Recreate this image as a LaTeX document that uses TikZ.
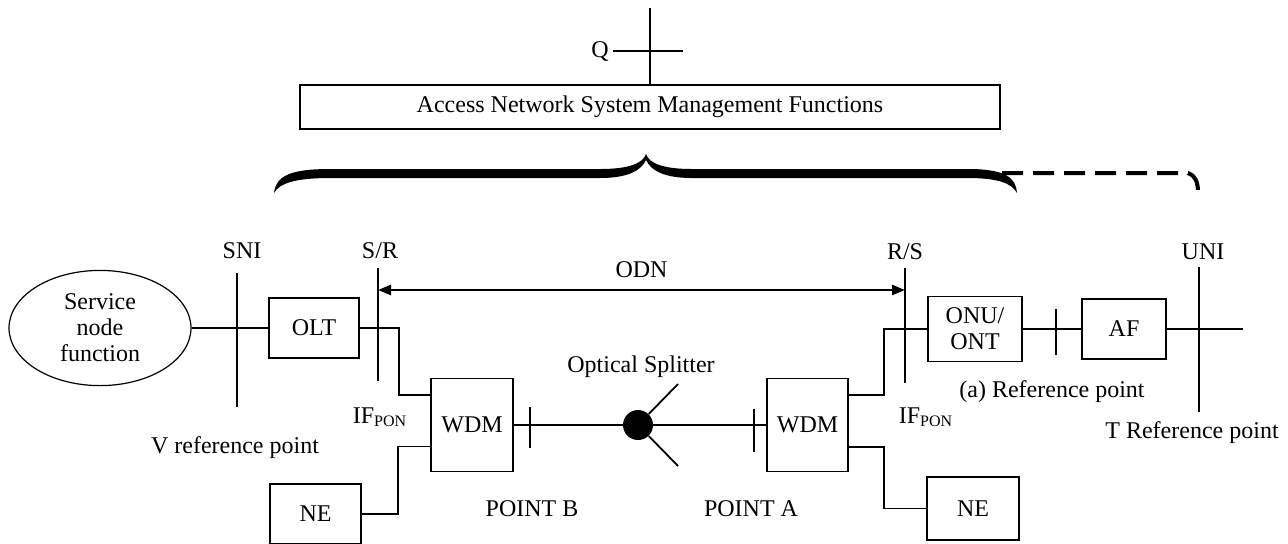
\documentclass[tikz,border=0pt]{standalone}
\usepackage{fontspec}
\setmainfont{Liberation Serif}
\usetikzlibrary{shapes.geometric, arrows.meta}

\begin{document}
\begin{tikzpicture}[x=0.5pt, y=-0.5pt,
    every node/.style={font=\fontsize{12}{13}\selectfont},
    box/.style={draw, line width=0.6pt, inner sep=0pt, align=center},
    lbl/.style={anchor=base, inner sep=0pt},
    refline/.style={line width=1.3pt},
    link/.style={line width=0.6pt},
    tick/.style={line width=0.9pt}]
    \useasboundingbox (0,0) rectangle (1288,543);

    % management part
    \node[box, minimum width=350pt, minimum height=22pt] (mgmt) at (650,107) {Access Network System Management Functions};
    \coordinate (qtop) at (650,8);
    \draw[refline] (qtop) -- (mgmt.north);
    \node[lbl] (q) at (600,57) {Q};
    \coordinate (qend) at (683,51);
    \draw[link] (613,51) -- (qend);

    % brace
    \fill (274,193) .. controls (276,176) and (290,169) .. (330,169) -- (600,169)
        .. controls (630,169) and (643,163) .. (646,154)
        .. controls (649,163) and (662,169) .. (692,169) -- (968,169)
        .. controls (1006,169) and (1016,178) .. (1017,193)
        .. controls (1012,184) and (1000,178) .. (968,178) -- (692,178)
        .. controls (665,178) and (651,171) .. (646,160)
        .. controls (641,171) and (627,178) .. (600,178) -- (330,178)
        .. controls (293,178) and (279,184) .. (274,193) -- cycle;
    \draw[line width=2pt, dash pattern=on 10.5pt off 5pt] (1002,173) -- (1188,173) .. controls (1195,175) and (1198,182) .. (1198,192);

    % reference points
    \node[lbl] (sni) at (242,258) {SNI};
    \node[lbl] (sr) at (380,258) {S/R};
    \node[lbl] (rs) at (905,259) {R/S};
    \node[lbl] (uni) at (1203,259) {UNI};
    \draw[refline] (237,273) -- (237,407);
    \draw[refline] (378,268) -- (378,381);
    \draw[refline] (905,268) -- (905,383);
    \draw[refline] (1199,267) -- (1199,412);
    \draw[refline, {Triangle[length=6.5pt,width=5pt]}-{Triangle[length=6.5pt,width=5pt]}] (378,290) -- (905,290) node[midway, above=2pt] (odn) {ODN};

    % OLT side
    \node[ellipse, draw, line width=0.6pt, minimum width=91pt, minimum height=57.5pt, align=center] (svc) at (100,328) {Service\\node\\function};
    \node[box, minimum width=45pt, minimum height=30pt] (olt) at (314,328) {OLT};
    \node[box, minimum width=41pt, minimum height=46.5pt] (wdmL) at (472,425) {WDM};
    \node[box, minimum width=45.5pt, minimum height=30pt] (neL) at (315.5,514) {NE};
    \draw[refline] (svc.east) -- (olt.west);
    \draw[link] (olt.east) -- (399,328) |- ([yshift=15pt]wdmL.west);
    \draw[link] (neL.east) -- (398,514) |- ([yshift=-10.75pt]wdmL.west);

    % splitter
    \node[circle, fill, minimum size=15pt, inner sep=0pt] (spl) at (638,425) {};
    \node[box, minimum width=40.5pt, minimum height=46.5pt] (wdmR) at (807.5,425) {WDM};
    \draw[refline] (wdmL.east) -- (spl) -- (wdmR.west);
    \coordinate (brUp) at (678,384);
    \coordinate (brDown) at (678,466);
    \draw[tick] (spl) -- (brUp);
    \draw[tick] (spl) -- (brDown);
    \draw[tick] (530,407) -- (530,448);
    \draw[tick] (754,409) -- (754,452);

    % ONU side
    \node[box, minimum width=47pt, minimum height=32.5pt] (onu) at (975,329) {ONU/\\ONT};
    \node[box, minimum width=42pt, minimum height=30pt] (af) at (1124,329) {AF};
    \node[box, minimum width=46pt, minimum height=31.5pt] (neR) at (973,508.5) {NE};
    \draw[link] ([yshift=15pt]wdmR.east) -- (884,395) |- (onu.west);
    \draw[link] ([yshift=-11pt]wdmR.east) -- (884,447) |- (neR.west);
    \draw[refline] (onu.east) -- (af.west);
    \draw[tick] (1056,309) -- (1056,355);
    \coordinate (uniEnd) at (1243,329);
    \draw[refline] (af.east) -- (uniEnd);

    % labels
    \node[lbl] (ifL) at (380,423) {IF\textsubscript{PON}};
    \node[lbl] (ifR) at (926,423) {IF\textsubscript{PON}};
    \node[lbl] (vref) at (235,453) {V reference point};
    \node[lbl] (osp) at (641,372) {Optical Splitter};
    \node[lbl] (ptB) at (532,516) {POINT B};
    \node[lbl] (ptA) at (751,516) {POINT A};
    \node[lbl] (aref) at (1052,397) {(a) Reference point};
    \node[lbl] (tref) at (1192,438) {T Reference point};
\end{tikzpicture}
\end{document}
